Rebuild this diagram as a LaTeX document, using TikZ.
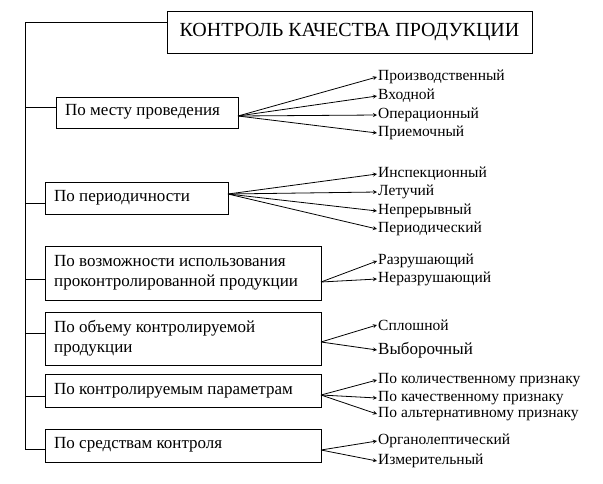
\documentclass[tikz,border=0pt]{standalone}
\usepackage{fontspec}
\setmainfont{Liberation Serif}
\usetikzlibrary{arrows}
\tikzset{
  grp/.style={font=\fontsize{17}{19.5}\selectfont},
  item/.style={anchor=west, inner sep=1pt, font=\fontsize{15.5}{17}\selectfont},
  fan/.style={-stealth, thick, shorten >=0pt},
}
\begin{document}
\begin{tikzpicture}[x=1pt, y=-1pt]
                \useasboundingbox (0,0) rectangle (603,483);
                % main box and spine
                \node[draw, thick, minimum width=365pt, minimum height=42pt, font=\fontsize{20}{22}\selectfont] (T) at (349.5,32) {КОНТРОЛЬ КАЧЕСТВА ПРОДУКЦИИ};
                \coordinate (top) at (25,22);
                \coordinate (bot) at (25,449);
                \draw[thick] (T.west |- top) -- (top) -- (bot);

                % group boxes
                \draw[thick] (56,97) rectangle (238,128);
                \node[item, grp] (G1) at (64,112) {По месту проведения};
                \draw[thick] (45,182) rectangle (228,214);
                \node[item, grp] (G2) at (53,198) {По периодичности};
                \draw[thick] (45,246) rectangle (321,300);
                \node[item, grp, align=left] (G3) at (53,273) {По возможности использования\\проконтролированной продукции};
                \draw[thick] (45,312) rectangle (321,365);
                \node[item, grp, align=left] (G4) at (53,338) {По объему контролируемой\\продукции};
                \draw[thick] (45,374) rectangle (321,407);
                \node[item, grp] (G5) at (53,391) {По контролируемым параметрам};
                \draw[thick] (45,429) rectangle (321,462);
                \node[item, grp] (G6) at (53,445) {По средствам контроля};

                % branches from the spine
                \draw[thick] (25,107) -- (56,107);
                \draw[thick] (25,203) -- (45,203);
                \draw[thick] (25,279) -- (45,279);
                \draw[thick] (25,333) -- (45,333);
                \draw[thick] (25,396) -- (45,396);
                \draw[thick] (25,449) -- (45,449);

                % origins of the fans
                \coordinate (O1) at (238,116);
                \coordinate (O2) at (228,194);
                \coordinate (O3) at (321,282);
                \coordinate (O4) at (321,342);
                \coordinate (O5) at (321,395);
                \coordinate (O6) at (321,450);

                % items
                \node[item] (A1) at (377,77) {Производственный};
                \node[item] (A2) at (377,96) {Входной};
                \node[item] (A3) at (377,115) {Операционный};
                \node[item] (A4) at (377,133) {Приемочный};
                \node[item] (B1) at (377,174) {Инспекционный};
                \node[item] (B2) at (377,192) {Летучий};
                \node[item] (B3) at (377,211) {Непрерывный};
                \node[item] (B4) at (377,229) {Периодический};
                \node[item] (C1) at (377,261) {Разрушающий};
                \node[item] (C2) at (377,279) {Неразрушающий};
                \node[item] (D1) at (377,325) {Сплошной};
                \node[item, grp] (D2) at (377,350) {Выборочный};
                \node[item] (E1) at (377,380) {По количественному признаку};
                \node[item] (E2) at (377,398) {По качественному признаку};
                \node[item] (E3) at (377,414) {По альтернативному признаку};
                \node[item] (F1) at (377,441) {Органолептический};
                \node[item] (F2) at (377,461) {Измерительный};

                \foreach \t in {A1,A2,A3,A4} \draw[fan] (O1) -- (\t.west);
                \foreach \t in {B1,B2,B3,B4} \draw[fan] (O2) -- (\t.west);
                \foreach \t in {C1,C2} \draw[fan] (O3) -- (\t.west);
                \foreach \t in {D1,D2} \draw[fan] (O4) -- (\t.west);
                \foreach \t in {E1,E2,E3} \draw[fan] (O5) -- (\t.west);
                \foreach \t in {F1,F2} \draw[fan] (O6) -- (\t.west);
            \end{tikzpicture}
\end{document}
